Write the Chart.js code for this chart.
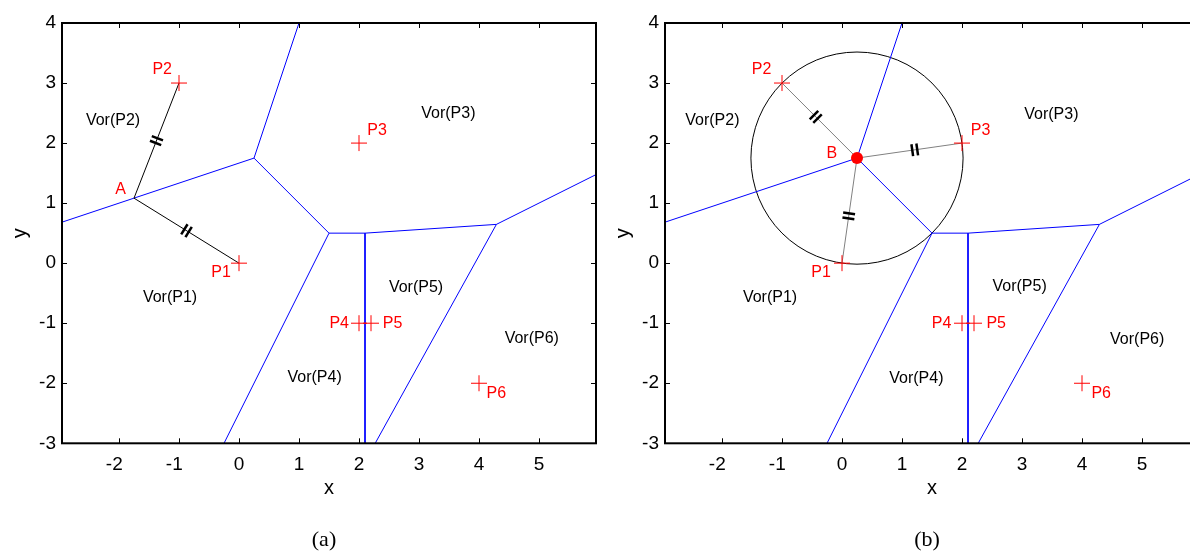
<!DOCTYPE html>
<html>
<head>
<meta charset="utf-8">
<script src="https://cdn.jsdelivr.net/npm/chart.js@4.4.1/dist/chart.umd.min.js"></script>
<style>
  html, body { margin: 0; padding: 0; background: #fff; overflow: hidden; width: 1190px; height: 555px; }
  .panel { position: absolute; top: 0; width: 605px; height: 555px; }
  #panelA { left: 0; }
  #panelB { left: 603px; }
</style>
</head>
<body>
<div class="panel" id="panelA"><canvas id="chartA" width="605" height="555"></canvas></div>
<div class="panel" id="panelB"><canvas id="chartB" width="605" height="555"></canvas></div>
<script>
const xTicks = [-2, -1, 0, 1, 2, 3, 4, 5];
const yTicks = [-3, -2, -1, 0, 1, 2, 3, 4];
const xRange = [-2.95, 5.95];
const yRange = [-3, 4];

const siteNames = ['P1', 'P2', 'P3', 'P4', 'P5', 'P6'];
const siteX = [0, -1, 2, 2, 2.2, 4];
const siteY = [0, 3, 2, -1, -1, -2];

// voronoi edges, start and end of each one
const edgeX1 = [-2.95, 0.25, 0.25, 1.5, 1.5, 2.1, 2.1, 4.29, 4.29];
const edgeY1 = [0.683, 1.75, 1.75, 0.5, 0.5, 0.5, 0.5, 0.646, 0.646];
const edgeX2 = [0.25, 1.0, 1.5, -0.25, 2.1, 2.1, 4.29, 2.27, 5.95];
const edgeY2 = [1.75, 4, 0.5, -3, 0.5, -3, 0.646, -3, 1.475];

const regionNames = ['Vor(P1)', 'Vor(P2)', 'Vor(P3)', 'Vor(P4)', 'Vor(P5)', 'Vor(P6)'];
const regionXA = [-1.15, -2.1, 3.49, 1.26, 2.95, 4.88];
const regionYA = [-0.57, 2.38, 2.49, -1.9, -0.4, -1.25];
const regionXB = [-1.2, -2.16, 3.49, 1.24, 2.96, 4.92];
const regionYB = [-0.57, 2.38, 2.47, -1.92, -0.39, -1.28];

const siteLabelXA = [-0.3, -1.28, 2.3, 1.67, 2.56, 4.29];
const siteLabelYA = [-0.16, 3.22, 2.2, -1.0, -1.0, -2.17];
const siteLabelXB = [-0.35, -1.34, 2.31, 1.66, 2.57, 4.32];
const siteLabelYB = [-0.16, 3.22, 2.2, -1.0, -1.0, -2.17];

// (a) point A on the P1/P2 bisector
const pointA = [-1.75, 1.083];
const labelA = [-1.975, 1.22];
const linksA = [0, 1];          // A joined to P1, P2

// (b) vertex B, centre of circle through P1, P2, P3
const pointB = [0.25, 1.75];
const radiusB = 1.768;
const labelB = [-0.17, 1.82];
const linksB = [0, 1, 2];       // B joined to P1, P2, P3

const sansFont = 'Arial, "Liberation Sans", Helvetica, sans-serif';
const serifFont = '"Times New Roman", "Liberation Serif", serif';

function overlay(panel) {
  return {
    id: 'overlay',
    beforeDatasetsDraw(chart) {
      if (!panel.circle) return;
      const ctx = chart.ctx, xs = chart.scales.x, ys = chart.scales.y;
      const cx = xs.getPixelForValue(panel.circle[0]);
      const cy = ys.getPixelForValue(panel.circle[1]);
      const r = xs.getPixelForValue(panel.circle[0] + panel.circle[2]) - cx;
      ctx.save();
      ctx.strokeStyle = '#000';
      ctx.lineWidth = 1;
      ctx.beginPath();
      ctx.arc(cx, cy, r, 0, Math.PI * 2);
      ctx.stroke();
      ctx.restore();
    },
    afterDatasetsDraw(chart) {
      const ctx = chart.ctx, xs = chart.scales.x, ys = chart.scales.y;
      const px = v => xs.getPixelForValue(v);
      const py = v => ys.getPixelForValue(v);
      const area = chart.chartArea;
      ctx.save();

      // double hash marks on the equal-length links
      ctx.strokeStyle = '#000';
      ctx.lineWidth = 2.5;
      panel.links.forEach(i => {
        const x0 = px(panel.vertex[0]), y0 = py(panel.vertex[1]);
        const x1 = px(siteX[i]), y1 = py(siteY[i]);
        const len = Math.hypot(x1 - x0, y1 - y0);
        const ux = (x1 - x0) / len, uy = (y1 - y0) / len;
        const mx = x0 + (x1 - x0) * panel.hashAt, my = y0 + (y1 - y0) * panel.hashAt;
        [-2.5, 2.5].forEach(d => {
          const bx = mx + ux * d, by = my + uy * d;
          ctx.beginPath();
          ctx.moveTo(bx - uy * 6, by + ux * 6);
          ctx.lineTo(bx + uy * 6, by - ux * 6);
          ctx.stroke();
        });
      });

      // texts
      ctx.textAlign = 'center';
      ctx.textBaseline = 'middle';
      ctx.font = '16px ' + sansFont;
      ctx.fillStyle = '#000';
      regionNames.forEach((t, i) => ctx.fillText(t, px(panel.regionX[i]), py(panel.regionY[i])));
      ctx.fillStyle = '#ff0000';
      siteNames.forEach((t, i) => ctx.fillText(t, px(panel.siteLabelX[i]), py(panel.siteLabelY[i])));
      ctx.fillText(panel.vertexName, px(panel.vertexLabel[0]), py(panel.vertexLabel[1]));

      // panel caption under the axis title
      ctx.fillStyle = '#000';
      ctx.font = '22px ' + serifFont;
      ctx.fillText(panel.title, 324, 540);

      // box and inward ticks
      ctx.strokeStyle = '#000';
      ctx.lineWidth = 2;
      ctx.strokeRect(area.left, area.top, area.right - area.left, area.bottom - area.top);
      ctx.lineWidth = 1;
      ctx.beginPath();
      xTicks.forEach(v => {
        const x = Math.round(px(v)) + 0.5;
        ctx.moveTo(x, area.bottom); ctx.lineTo(x, area.bottom - 5);
        ctx.moveTo(x, area.top); ctx.lineTo(x, area.top + 5);
      });
      yTicks.forEach(v => {
        const y = Math.round(py(v)) + 0.5;
        ctx.moveTo(area.left, y); ctx.lineTo(area.left + 5, y);
        ctx.moveTo(area.right, y); ctx.lineTo(area.right - 5, y);
      });
      ctx.stroke();
      ctx.restore();
    }
  };
}

function makePanel(id, panel) {
  const datasets = [];
  if (panel.dot) {
    datasets.push({
      data: [{ x: panel.vertex[0], y: panel.vertex[1] }],
      pointStyle: 'circle', pointRadius: 6, backgroundColor: '#ff0000', borderColor: '#ff0000', borderWidth: 0
    });
  }
  datasets.push({
    data: siteX.map((x, i) => ({ x: x, y: siteY[i] })),
    pointStyle: 'cross', pointRadius: 8, borderColor: '#ff0000', borderWidth: 1
  });
  panel.links.forEach(i => datasets.push({
    data: [{ x: panel.vertex[0], y: panel.vertex[1] }, { x: siteX[i], y: siteY[i] }],
    showLine: true, borderColor: panel.linkColor, borderWidth: 1, pointRadius: 0
  }));
  edgeX1.forEach((x, i) => datasets.push({
    data: [{ x: x, y: edgeY1[i] }, { x: edgeX2[i], y: edgeY2[i] }],
    showLine: true, borderColor: '#0000ff', borderWidth: 1, pointRadius: 0
  }));

  const tickFont = { family: sansFont, size: 19 };
  return new Chart(document.getElementById(id), {
    type: 'scatter',
    data: { datasets: datasets },
    options: {
      responsive: false,
      animation: false,
      events: [],
      layout: { padding: { top: 23, right: 4, left: 0, bottom: 0 } },
      plugins: {
        legend: { display: false },
        tooltip: { enabled: false },
        title: { display: false }
      },
      scales: {
        x: {
          type: 'linear', min: xRange[0], max: xRange[1],
          afterBuildTicks: s => { s.ticks = xTicks.map(v => ({ value: v })); },
          afterFit: s => { s.height = 111.7; },
          grid: { display: false, drawTicks: false },
          border: { display: false },
          ticks: {
            font: tickFont, color: '#000', padding: 10, autoSkip: false, maxRotation: 0,
            callback: v => v < 0 ? v + '\u2002' : String(v)
          },
          title: { display: true, text: 'x', color: '#000', font: { family: sansFont, size: 20 }, padding: { top: 0, bottom: 54.4 } }
        },
        y: {
          type: 'linear', min: yRange[0], max: yRange[1],
          afterBuildTicks: s => { s.ticks = yTicks.map(v => ({ value: v })); },
          afterFit: s => { s.width = 62; },
          grid: { display: false, drawTicks: false },
          border: { display: false },
          ticks: { font: tickFont, color: '#000', padding: 6, autoSkip: false },
          title: { display: true, text: 'y', color: '#000', font: { family: sansFont, size: 20 }, padding: { top: 8 } }
        }
      }
    },
    plugins: [overlay(panel)]
  });
}

makePanel('chartA', {
  title: '(a)', vertex: pointA, vertexName: 'A', vertexLabel: labelA, links: linksA,
  linkColor: '#000', hashAt: 0.5, dot: false, circle: null,
  regionX: regionXA, regionY: regionYA, siteLabelX: siteLabelXA, siteLabelY: siteLabelYA
});
makePanel('chartB', {
  title: '(b)', vertex: pointB, vertexName: 'B', vertexLabel: labelB, links: linksB,
  linkColor: '#808080', hashAt: 0.55, dot: true, circle: [pointB[0], pointB[1], radiusB],
  regionX: regionXB, regionY: regionYB, siteLabelX: siteLabelXB, siteLabelY: siteLabelYB
});
</script>
</body>
</html>
